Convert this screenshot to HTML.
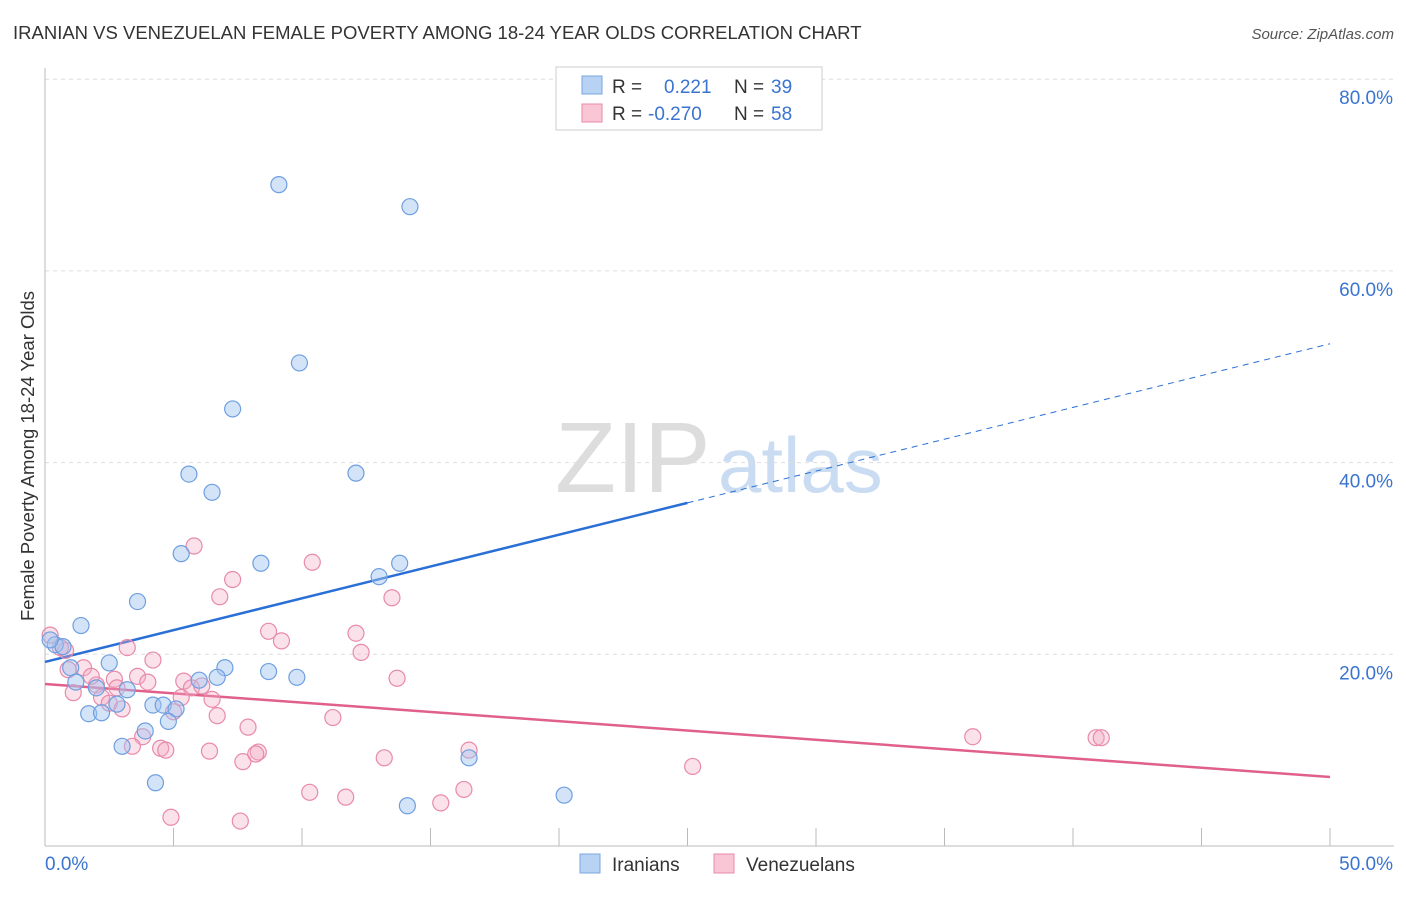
<!DOCTYPE html>
<html><head><meta charset="utf-8">
<style>
body{margin:0;background:#fff;font-family:"Liberation Sans",sans-serif;}
svg text{font-family:"Liberation Sans",sans-serif;}
</style></head>
<body>
<svg id="chart" width="1406" height="892" viewBox="0 0 1406 892" xmlns="http://www.w3.org/2000/svg">
<text x="13" y="39" font-size="18.5" fill="#333">IRANIAN VS VENEZUELAN FEMALE POVERTY AMONG 18-24 YEAR OLDS CORRELATION CHART</text>
<text x="1394" y="39" font-size="15" fill="#555" font-style="italic" text-anchor="end">Source: ZipAtlas.com</text>
<g>
<text x="555" y="492" font-size="100" fill="#ddd" font-family="Liberation Serif,serif">ZIP</text>
<text x="718" y="492" font-size="78" fill="#c9dcf2">atlas</text>
</g>
<g id="grid"></g>
<g id="axes"></g>
<g id="trend"></g>
<g id="pts"></g>
<text transform="translate(34,456) rotate(-90)" font-size="18.5" fill="#333" text-anchor="middle">Female Poverty Among 18-24 Year Olds</text>
<g>
<rect x="556" y="67" width="266" height="63" fill="#fff" stroke="#ccc"/>
<rect x="582" y="76" width="20" height="18" fill="#b8d2f3" stroke="#7aa7e0"/>
<rect x="582" y="104" width="20" height="18" fill="#f9c6d5" stroke="#e88aab"/>
<text x="612" y="93" font-size="19" fill="#333">R = </text><text x="664" y="93" font-size="19" fill="#3a74d0">0.221</text>
<text x="734" y="93" font-size="19" fill="#333">N = </text><text x="771" y="93" font-size="19" fill="#3a74d0">39</text>
<text x="612" y="120" font-size="19" fill="#333">R = </text><text x="648" y="120" font-size="19" fill="#3a74d0">-0.270</text>
<text x="734" y="120" font-size="19" fill="#333">N = </text><text x="771" y="120" font-size="19" fill="#3a74d0">58</text>
</g>
<g>
<rect x="580" y="854" width="20" height="19" fill="#b8d2f3" stroke="#7aa7e0"/>
<text x="612" y="871" font-size="19" fill="#333">Iranians</text>
<rect x="714" y="854" width="20" height="19" fill="#f9c6d5" stroke="#e88aab"/>
<text x="746" y="871" font-size="19" fill="#333">Venezuelans</text>
</g>
</svg>
<script>
const blueX=[9.1,14.2,9.9,7.3,5.6,6.5,12.1,5.3,8.4,13.8,13.0,3.6,1.4,0.4,0.7,2.5,1.0,7.0,6.0,6.7,8.7,9.8,1.2,2.0,3.2,2.8,4.2,4.6,5.1,1.7,2.2,4.8,3.9,3.0,4.3,16.5,14.1,20.2,0.2];
const blueY=[69.0,66.7,50.4,45.6,38.8,36.9,38.9,30.5,29.5,29.5,28.1,25.5,23.0,21.0,20.8,19.1,18.6,18.6,17.3,17.6,18.2,17.6,17.1,16.5,16.3,14.8,14.7,14.7,14.3,13.8,13.9,13.0,12.0,10.4,6.6,9.2,4.2,5.3,21.5];
const pinkX=[5.8,10.4,7.3,6.8,13.5,8.7,12.1,9.2,3.2,12.3,0.8,4.2,1.5,3.6,2.7,4.0,5.4,13.7,5.7,6.1,2.0,1.1,2.2,5.3,6.5,2.5,3.0,6.7,11.2,7.9,3.8,3.4,4.5,4.7,6.4,8.3,8.2,7.7,13.2,16.5,25.2,36.1,40.9,41.1,10.3,11.7,15.4,16.3,4.9,7.6,0.2,0.6,0.9,1.8,2.8,5.0];
const pinkY=[31.3,29.6,27.8,26.0,25.9,22.4,22.2,21.4,20.7,20.2,20.4,19.4,18.6,17.7,17.4,17.1,17.2,17.5,16.5,16.7,16.8,16.0,15.5,15.5,15.3,14.9,14.3,13.6,13.4,12.4,11.4,10.4,10.2,10.0,9.9,9.8,9.6,8.8,9.2,10.0,8.3,11.4,11.3,11.3,5.6,5.1,4.5,5.9,3.0,2.6,22.0,20.7,18.4,17.7,16.5,14.0];
const yTicks=[20,40,60,80];
const yTickLabels=["20.0%","40.0%","60.0%","80.0%"];
const xTicks=[0,5,10,15,20,25,30,35,40,45,50];
const blueTrend=[19.2,52.4];
const pinkTrend=[16.9,7.2];
const NS="http://www.w3.org/2000/svg";
const sx=v=>45+v*25.7, sy=v=>846-v*9.585;
function mk(tag,attrs,parent){const e=document.createElementNS(NS,tag);for(const k in attrs)e.setAttribute(k,attrs[k]);parent.appendChild(e);return e;}
const grid=document.getElementById('grid'),axes=document.getElementById('axes'),trend=document.getElementById('trend'),pts=document.getElementById('pts');
yTicks.forEach((t,i)=>{
 const l=mk('line',{x1:45,x2:1394,y1:sy(t),y2:sy(t),stroke:'#ddd','stroke-dasharray':'4,4'},grid);
 
 
 const tx=mk('text',{x:1393,y:sy(t)+25,'font-size':19,fill:'#3a74d0','text-anchor':'end'},axes);
 tx.textContent=yTickLabels[i];
 
 
});
mk('line',{x1:45,x2:1394,y1:846,y2:846,stroke:'#bbb'},axes);
mk('line',{x1:45,x2:45,y1:68,y2:846,stroke:'#bbb'},axes);
xTicks.forEach(t=>{
 const l=mk('line',{x1:sx(t),x2:sx(t),y1:828,y2:846,stroke:'#bbb'},axes);
 
 
});
const x0=mk('text',{x:45,y:870,'font-size':19,fill:'#3a74d0'},axes);x0.textContent='0.0%';


const x1=mk('text',{x:1393,y:870,'font-size':19,fill:'#3a74d0','text-anchor':'end'},axes);x1.textContent='50.0%';


function drawPts(X,Y,fill,stroke,name){X.forEach((x,i)=>{
 const c=mk('circle',{cx:sx(x),cy:sy(Y[i]),r:8,fill:fill,stroke:stroke,'stroke-width':1.2},pts);
 
 
});}
drawPts(pinkX,pinkY,'rgba(244,170,195,0.35)','#e88aab','venezuelan-point');
drawPts(blueX,blueY,'rgba(160,196,240,0.45)','#6f9fe0','iranian-point');
const bMid=blueTrend[0]+(blueTrend[1]-blueTrend[0])*25/50;
const bl=mk('line',{x1:sx(0),y1:sy(blueTrend[0]),x2:sx(25),y2:sy(bMid),stroke:'#2a6fd6','stroke-width':2.5},trend);


const bd=mk('line',{x1:sx(25),y1:sy(bMid),x2:sx(50),y2:sy(blueTrend[1]),stroke:'#2a6fd6','stroke-width':1,'stroke-dasharray':'6,5'},trend);


const pl=mk('line',{x1:sx(0),y1:sy(pinkTrend[0]),x2:sx(50),y2:sy(pinkTrend[1]),stroke:'#e0608a','stroke-width':2.5},trend);


</script>
</body></html>
